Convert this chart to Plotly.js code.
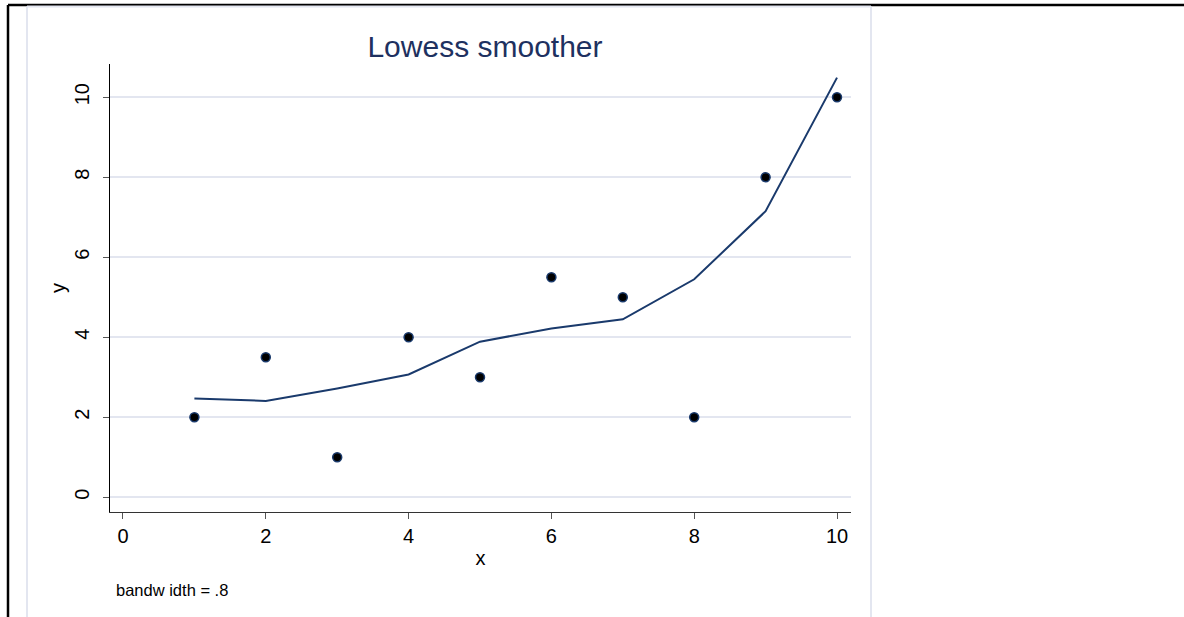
<!DOCTYPE html>
<html>
<head>
<meta charset="utf-8">
<script src="https://cdn.plot.ly/plotly-3.0.1.min.js"></script>
<style>html,body{margin:0;padding:0;background:#fff;}#chart{width:1184px;height:617px;}</style>
</head>
<body>
<div id="chart"></div>
<script>
// Data
var xValues = [1, 2, 3, 4, 5, 6, 7, 8, 9, 10];
var yValues = [2, 3.5, 1, 4, 3, 5.5, 5, 2, 8, 10];
var lowessValues = [2.47, 2.41, 2.72, 3.07, 3.89, 4.22, 4.45, 5.45, 7.15, 10.49];
var xTicks = [0, 2, 4, 6, 8, 10];
var yTicks = [0, 2, 4, 6, 8, 10];
var titleText = 'Lowess smoother';
var noteText = 'bandw idth = .8';

var navy = '#1a3a6c';
var frame = '#e3e6f0';
var W = 1184, H = 617;
var L = 110, R = 851, T = 64, B = 512;
function px(x) { return (x - L) / (R - L); }
function py(y) { return (B - y) / (B - T); }

var traces = [
  {
    x: xValues, y: yValues, type: 'scatter', mode: 'markers',
    marker: {color: '#000000', size: 9, line: {color: navy, width: 1.5}},
    hoverinfo: 'skip', showlegend: false
  },
  {
    x: xValues, y: lowessValues, type: 'scatter', mode: 'lines',
    line: {color: navy, width: 2},
    hoverinfo: 'skip', showlegend: false
  }
];

var fontFam = 'Liberation Sans, Arial, sans-serif';
var layout = {
  width: W, height: H,
  margin: {l: L, r: W - R, t: T, b: H - B},
  paper_bgcolor: '#ffffff', plot_bgcolor: '#ffffff',
  font: {family: fontFam, color: '#000000'},
  title: {text: titleText, font: {family: fontFam, size: 30, color: '#1e3160'},
          xref: 'container', x: 485 / W, xanchor: 'center', yref: 'container', y: 1 - 46 / H, yanchor: 'middle'},
  xaxis: {
    range: [-0.182, 10.196], tickvals: xTicks, ticktext: xTicks.map(String),
    showgrid: false, zeroline: false, showline: true, linecolor: '#333333', linewidth: 1,
    ticks: 'outside', ticklen: 6, tickcolor: '#555555', tickwidth: 1,
    tickfont: {size: 20, family: fontFam, color: '#000'},
    title: {text: 'x', font: {size: 20, family: fontFam, color: '#000'}, standoff: 4}
  },
  yaxis: {
    range: [-0.3675, 10.83], tickvals: yTicks, ticktext: yTicks.map(String),
    showgrid: true, gridcolor: frame, gridwidth: 2, zeroline: false,
    showline: true, linecolor: '#000000', linewidth: 1,
    ticks: 'outside', ticklen: 6, tickcolor: '#555555', tickwidth: 1, tickangle: -90,
    ticklabelstandoff: 6,
    tickfont: {size: 20, family: fontFam, color: '#000'},
    title: {text: 'y', font: {size: 20, family: fontFam, color: '#000'}, standoff: 0}
  },
  shapes: [
    {type: 'line', xref: 'paper', yref: 'paper', x0: px(8), x1: px(1184), y0: py(5), y1: py(5), line: {color: '#000', width: 2.5}, layer: 'below'},
    {type: 'line', xref: 'paper', yref: 'paper', x0: px(8), x1: px(8), y0: py(5), y1: py(617), line: {color: '#000', width: 2.5}, layer: 'below'},
    {type: 'line', xref: 'paper', yref: 'paper', x0: px(27), x1: px(871), y0: py(6.5), y1: py(6.5), line: {color: frame, width: 2}, layer: 'below'},
    {type: 'line', xref: 'paper', yref: 'paper', x0: px(27), x1: px(27), y0: py(6.5), y1: py(617), line: {color: frame, width: 2}, layer: 'below'},
    {type: 'line', xref: 'paper', yref: 'paper', x0: px(871), x1: px(871), y0: py(6.5), y1: py(617), line: {color: frame, width: 2}, layer: 'below'}
  ],
  annotations: [
    {text: noteText, xref: 'paper', yref: 'paper', x: px(114), y: py(590), xanchor: 'left', yanchor: 'middle',
     showarrow: false, font: {size: 16.5, family: fontFam, color: '#000'}}
  ]
};

Plotly.newPlot('chart', traces, layout, {displayModeBar: false, staticPlot: true});
</script>
</body>
</html>
